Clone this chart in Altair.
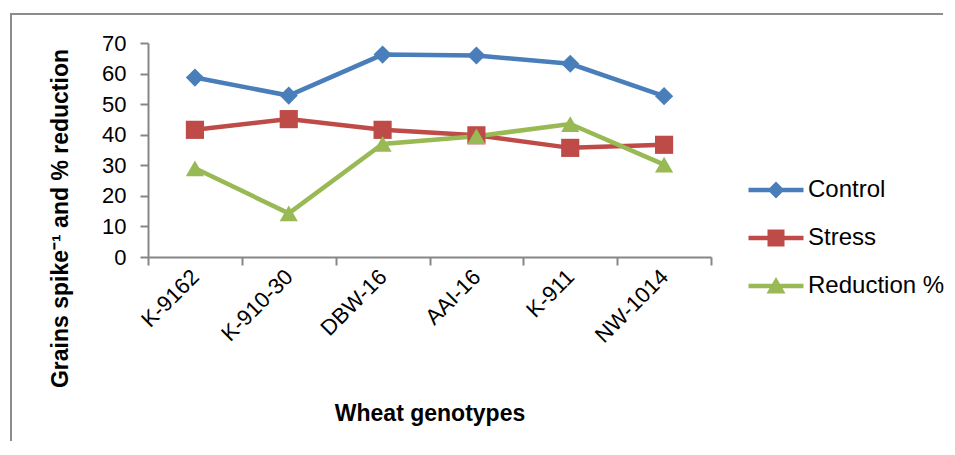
import altair as alt
import pandas as pd

genotypes = ["K-9162", "K-910-30", "DBW-16", "AAI-16", "K-911", "NW-1014"]
series_names = ["Control", "Stress", "Reduction %"]
control = [58.7, 52.8, 66.2, 65.9, 63.2, 52.6]
stress = [41.6, 45.1, 41.6, 39.8, 35.7, 36.7]
reduction = [29.0, 14.3, 37.0, 39.5, 43.5, 30.2]
y_ticks = [0, 10, 20, 30, 40, 50, 60, 70]
colors = ["#4A7EBB", "#BE4B48", "#98B954"]

rows = []
for name, vals in zip(series_names, [control, stress, reduction]):
    for g, v in zip(genotypes, vals):
        rows.append({"genotype": g, "series": name, "value": v})
df = pd.DataFrame(rows)

FONT = "Liberation Sans, Arial, sans-serif"
GRAY = "#868686"

x_enc = alt.X(
    "genotype:N", sort=genotypes, bandPosition=0.5,
    scale=alt.Scale(type="band", domain=genotypes, paddingInner=0, paddingOuter=0),
    axis=alt.Axis(
        labelAngle=-45, labelAlign="right", labelBaseline="middle",
        labelFont=FONT, labelFontSize=22, labelColor="black", labelPadding=8,
        tickBand="extent", tickSize=8, tickWidth=2, tickColor=GRAY,
        domainColor=GRAY, domainWidth=2, grid=False,
        title="Wheat genotypes", titleFont=FONT, titleFontSize=23,
        titleFontWeight="bold", titleColor="black",
        titleX=281.5, titleY=156, titleAlign="center", titleBaseline="middle",
    ),
)
y_enc = alt.Y(
    "value:Q",
    scale=alt.Scale(domain=[0, 70], nice=False, zero=True),
    axis=alt.Axis(
        values=y_ticks, grid=False, domainColor=GRAY, domainWidth=2,
        tickColor=GRAY, tickWidth=2, tickSize=8,
        labelFont=FONT, labelFontSize=22, labelColor="black", labelPadding=14,
        title="Grains spike\u207b\u00b9 and % reduction", titleFont=FONT,
        titleFontSize=23, titleFontWeight="bold", titleColor="black",
        titleAngle=270, titleX=-88, titleY=175, titleAlign="center",
        titleBaseline="middle",
    ),
)

color_scale = alt.Scale(domain=series_names, range=colors)

frame_df = pd.DataFrame({"k": [0]})
frame_top = alt.Chart(frame_df).mark_rule(stroke="#8c8c8c", strokeWidth=2).encode(
    x=alt.value(-138), x2=alt.value(795), y=alt.value(-29)
)
frame_left = alt.Chart(frame_df).mark_rule(stroke="#8c8c8c", strokeWidth=2).encode(
    x=alt.value(-137), y=alt.value(-30), y2=alt.value(404)
)

base = alt.Chart(df)

lines = base.mark_line(strokeWidth=4.5).encode(
    x=x_enc, y=y_enc,
    color=alt.Color("series:N", scale=color_scale, sort=series_names, legend=None),
)

points = base.mark_point(filled=True, opacity=1, size=330).encode(
    x=x_enc, y=y_enc,
    color=alt.Color("series:N", scale=color_scale, sort=series_names, legend=None),
    shape=alt.Shape("series:N", sort=series_names,
                    scale=alt.Scale(domain=series_names,
                                    range=["diamond", "square", "triangle-up"]),
                    legend=None),
)

line_seg = "M-2.75,-0.22L2.75,-0.22L2.75,0.22L-2.75,0.22Z"
leg_shapes = [
    line_seg + "M0,-0.85L0.85,0L0,0.85L-0.85,0Z",
    line_seg + "M-0.85,-0.85L0.85,-0.85L0.85,0.85L-0.85,0.85Z",
    line_seg + "M0,-0.9L0.95,0.75L-0.95,0.75Z",
]

leg = alt.Legend(
    title=None, orient="none", legendX=616, legendY=135,
    symbolSize=400, symbolOpacity=1, symbolStrokeWidth=0,
    labelFont=FONT, labelFontSize=24, labelColor="black",
    labelOffset=20, rowPadding=24,
)

legend_layer = base.mark_point(filled=True, opacity=0, size=10).encode(
    x=x_enc, y=y_enc,
    color=alt.Color("series:N", scale=color_scale, sort=series_names, legend=leg),
    shape=alt.Shape("series:N", sort=series_names,
                    scale=alt.Scale(domain=series_names, range=leg_shapes),
                    legend=leg),
)

chart = alt.layer(frame_top, frame_left, lines, points, legend_layer).resolve_scale(
    color="independent", shape="independent"
).properties(
    width=563, height=214,
    padding={"left": 140, "top": 35, "right": 236, "bottom": 184},
    autosize=alt.AutoSizeParams(type="none"),
    background="white",
).configure_view(strokeWidth=0)

chart.save("out.html", embed_options={"renderer": "svg", "actions": False})
